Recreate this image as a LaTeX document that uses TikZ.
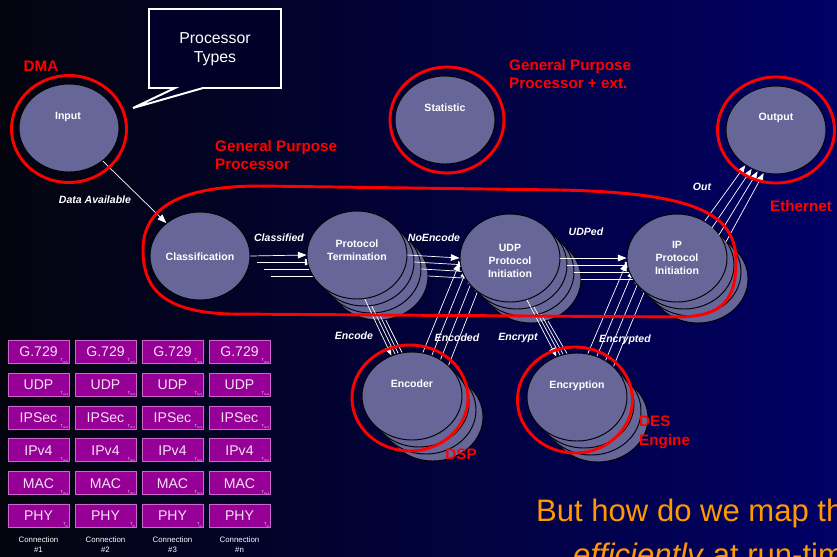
\documentclass[tikz,border=0pt]{standalone}
\usepackage{fontspec}
\setmainfont{Liberation Sans}
\usetikzlibrary{shapes.geometric,arrows.meta,calc}

\definecolor{bgleft}{RGB}{4,4,14}
\definecolor{bgright}{RGB}{0,0,102}
\definecolor{procfill}{RGB}{102,102,153}
\definecolor{hwred}{RGB}{255,0,0}
\definecolor{boxfill}{RGB}{150,0,150}
\definecolor{boxline}{RGB}{204,102,204}
\definecolor{boxtext}{RGB}{245,225,245}
\definecolor{askorange}{RGB}{255,153,0}
\definecolor{calloutfill}{RGB}{0,0,40}

\pgfdeclarelayer{bg}
\pgfdeclarelayer{wiresA}
\pgfdeclarelayer{stackB}
\pgfdeclarelayer{wiresB}
\pgfdeclarelayer{stackC}
\pgfdeclarelayer{wiresC}
\pgfdeclarelayer{stackD}
\pgfsetlayers{bg,wiresA,stackB,wiresB,stackC,wiresC,stackD,main}

\tikzset{
  proc/.style={ellipse,draw=black,line width=0.8pt,fill=procfill,
    minimum width=3cm,minimum height=2.64cm,inner sep=0pt},
  ring/.style={draw=hwred,line width=2.5pt},
  pname/.style={text=white,font=\bfseries\fontsize{9}{11}\selectfont,align=center},
  tag/.style={text=white,font=\bfseries\itshape\fontsize{9}{10}\selectfont},
  hw/.style={text=hwred,font=\bfseries\fontsize{13}{16}\selectfont,align=left,inner sep=0pt},
  flow/.style={draw=white,line width=0.6pt,-{Triangle[length=2.6mm,width=2mm]}},
  wire/.style={draw=white,line width=0.6pt},
  protbox/.style={draw=boxline,line width=0.8pt,fill=boxfill,minimum width=1.83cm,
    minimum height=0.69cm,inner sep=0pt,text=boxtext,font=\fontsize{12}{12}\selectfont},
  tm/.style={text=boxtext,font=\fontsize{3.5}{4}\selectfont,inner sep=0.6pt},
  conn/.style={text=white,font=\fontsize{6.7}{8.5}\selectfont,align=center},
}

\begin{document}
\begin{tikzpicture}[x=0.03cm,y=-0.03cm]
\path[use as bounding box] (0,0) rectangle (837,556);

\begin{pgfonlayer}{bg}
\shade[left color=bgleft,right color=bgright] (0,0) rectangle (837,556);
\node[proc] (inp) at (69,128) {};
\node[proc] (stat) at (445,120) {};
\node[proc] (outp) at (776,130) {};
\node[proc] (cls) at (200,256) {};
\foreach \i in {3,2,1,0} {
  \node[proc] (enc\i) at ({412+7*\i},{396+7*\i}) {};
  \node[proc] (encr\i) at ({577+7*\i},{397+7*\i}) {};
}
\end{pgfonlayer}

\begin{pgfonlayer}{stackB}
\foreach \i in {3,2,1,0}
  \node[proc] (pt\i) at ({357+7*\i},{255+7*\i}) {};
\end{pgfonlayer}
\begin{pgfonlayer}{stackC}
\foreach \i in {3,2,1,0}
  \node[proc] (udp\i) at ({510+7*\i},{258+7*\i}) {};
\end{pgfonlayer}
\begin{pgfonlayer}{stackD}
\foreach \i in {3,2,1,0}
  \node[proc] (ip\i) at ({677+7*\i},{258+7*\i}) {};
\end{pgfonlayer}

% connections, behind the stacks they run into
\begin{pgfonlayer}{wiresA}
\draw[flow] (inp) -- (cls);
\draw[flow] (cls.east) -- (pt0.west);
\foreach \i in {1,2,3}
  \draw[flow] ($(cls.east |- pt\i.west)+({7*\i},0)$) -- (pt\i.west);
\foreach \i/\a in {0/76,1/64,2/52,3/40} {
  \draw[flow] (enc0.\a) -- (udp\i.185);
  \draw[flow] (encr0.\a) -- (ip\i.185);
}
\end{pgfonlayer}

\begin{pgfonlayer}{wiresB}
\foreach \i in {0,...,3}
  \draw[flow] (pt\i.east) -- (udp\i.west);
\draw[flow] (pt0.-80) -- (enc0.117);
\foreach \i/\a in {1/112,2/108,3/103}
  \draw[wire] (pt\i.-80) -- (enc0.\a);
\end{pgfonlayer}

\begin{pgfonlayer}{wiresC}
\foreach \i in {0,...,3}
  \draw[flow] (udp\i.east) -- (ip\i.west);
\draw[flow] (udp0.-68) -- (encr0.117);
\foreach \i/\a in {1/112,2/108,3/103}
  \draw[wire] (udp\i.-68) -- (encr0.\a);
\end{pgfonlayer}

\foreach \i/\a in {0/229,1/238,2/246,3/254}
  \draw[flow] (ip\i.53) -- (outp.\a);

\node[pname] (inpT) at (68,117) {Input};
\node[pname] (statT) at (445,108) {Statistic};
\node[pname] (outT) at (776,118) {Output};
\node[pname] (clsT) at (200,257) {Classification};
\node[pname] (ptT) at (357,250) {Protocol\\Termination};
\node[pname] (udpT) at (510,261) {UDP\\Protocol\\Initiation};
\node[pname] (ipT) at (677,258) {IP\\Protocol\\Initiation};
\node[pname] (encT) at (412,384) {Encoder};
\node[pname] (encrT) at (577,386) {Encryption};

\node[tag] (tData) at (95,200) {Data Available};
\node[tag] (tCls) at (279,238) {Classified};
\node[tag] (tNoE) at (434,238) {NoEncode};
\node[tag] (tUdp) at (586,232) {UDPed};
\node[tag] (tOut) at (702,187) {Out};
\node[tag] (tEnc) at (354,336) {Encode};
\node[tag] (tEncd) at (457,338) {Encoded};
\node[tag] (tEcr) at (518,338) {Encrypt};
\node[tag] (tEcrd) at (625,340) {Encrypted};

% processor types
\draw[ring] (69,129) ellipse (57.5 and 53.5);
\draw[ring] (447,120) ellipse (57 and 53);
\draw[ring] (776,130) ellipse (58.5 and 53);
\draw[ring] (410,398) ellipse (58 and 53);
\draw[ring] (575,400) ellipse (57.5 and 53);
\draw[ring] (143,250) .. controls (143,205) and (185,186) .. (260,186)
  -- (560,190) .. controls (700,193) and (736,215) .. (736,262)
  .. controls (736,300) and (722,316) .. (680,317)
  -- (230,314) .. controls (165,312) and (143,290) .. (143,250) -- cycle;

\node[hw] (hDma) at (41,66) {DMA};
\node[hw,anchor=west] (hGpp) at (215,155) {General Purpose\\Processor};
\node[hw,anchor=west] (hGpx) at (509,74) {General Purpose\\Processor + ext.};
\node[hw] (hEth) at (801,206) {Ethernet};
\node[hw] (hDsp) at (461,454) {DSP};
\node[hw,anchor=west] (hDes) at (639,432) {DES\\Engine};

\draw[draw=white,line width=1.7pt,fill=calloutfill,line join=miter]
  (149,9) -- (281,9) -- (281,88) -- (203,88) -- (133,108) -- (175,88)
  -- (149,88) -- cycle;
\node[text=white,font=\fontsize{13.5}{16.5}\selectfont,align=center] (ptypes)
  at (215,49) {Processor\\Types};

% protocol stacks per connection
\foreach \c/\n in {0/1,1/2,2/3,3/n} {
  \foreach \r/\p/\s in {0/G.729/m-5,1/UDP/m-4,2/IPSec/m-3,3/IPv4/m-2,4/MAC/m-1,5/PHY/m} {
    \node[protbox] (b\c\r) at ({38.5+67*\c},{352+32.8*\r}) {\p};
    \node[tm,anchor=south east] (s\c\r) at (b\c\r.south east) {T\textsubscript{\s}};
  }
  \node[conn] (cl\c) at ({38.5+67*\c},545) {Connection\\\#\n};
}

\begin{scope}
\clip (0,0) rectangle (837,556);
\node[anchor=base west,text=askorange,font=\fontsize{26.5}{30}\selectfont,inner sep=0pt]
  (ask1) at (536,521) {But how do we map these};
\node[anchor=base west,text=askorange,font=\fontsize{26.5}{30}\selectfont,inner sep=0pt]
  (ask2) at (573,565) {\textit{efficiently} at run-time?};
\end{scope}
\end{tikzpicture}
\end{document}
